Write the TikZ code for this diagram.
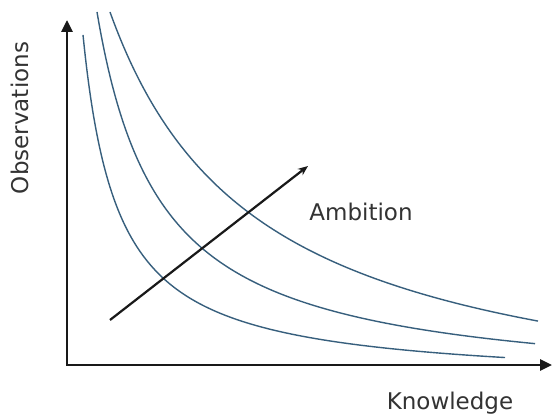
\documentclass[tikz,border=0pt]{standalone}
\usepackage{fontspec}
\setmainfont{DejaVu Sans}
\usetikzlibrary{arrows.meta}
\definecolor{curveblue}{RGB}{55,95,125}
\definecolor{axisgray}{RGB}{25,25,25}
\begin{document}
\begin{tikzpicture}[x=1pt,y=-1pt,
  axis/.style={draw=axisgray,line width=2.8pt,line cap=rect,-{Triangle[length=12pt,width=11pt]}},
  curve/.style={draw=curveblue,line width=1.4pt,samples=200,smooth},
  ambarrow/.style={draw=axisgray,line width=2.2pt,-{Stealth[length=10pt,width=8pt]}},
  lbl/.style={font=\fontsize{23}{27}\selectfont,text=black!80,inner sep=0pt}]
\useasboundingbox[fill=white] (0,0) rectangle (553,419);
\coordinate (O) at (67,365);
\coordinate (ytop) at (67,20);
\coordinate (xend) at (552,365);
\draw[axis] (O) -- (ytop);
\draw[axis] (O) -- (xend);
% curves
\draw[curve] plot[domain=83:505] (\x,{384.3-122.26/((\x-48)/100)});
\draw[curve] plot[domain=97:535] (\x,{392.1-243.25/((\x-33)/100)});
\draw[curve] plot[domain=110:538] (\x,{429.4-626.1/((\x+40)/100)});
% ambition arrow
\coordinate (a1) at (110,320);
\coordinate (a2) at (308,166);
\draw[ambarrow] (a1) -- (a2);
% labels
\node[lbl] (amb) at (361,212) {Ambition};
\node[lbl] (know) at (450,403) {Knowledge};
\node[lbl,rotate=90] (obs) at (20,118) {Observations};
\end{tikzpicture}
\end{document}
